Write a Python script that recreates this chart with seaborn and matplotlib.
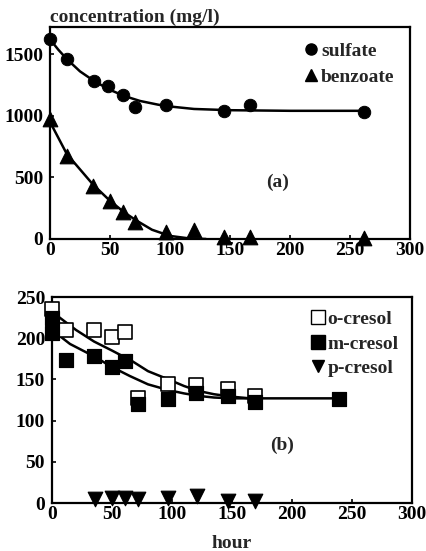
import numpy as np
import pandas as pd
import matplotlib
matplotlib.use("Agg")
import matplotlib.pyplot as plt
import seaborn as sns
from matplotlib.lines import Line2D

# ---- data (a) ----
sulfate_t = [0, 14, 37, 48, 61, 71, 97, 145, 167, 262]
sulfate_c = [1620, 1460, 1285, 1245, 1170, 1070, 1090, 1040, 1090, 1030]
benzoate_t = [0, 14, 36, 50, 61, 71, 97, 120, 145, 167, 262]
benzoate_c = [970, 670, 430, 310, 215, 140, 60, 75, 15, 20, 5]
sulfate_fit_t = [0, 7, 14, 25, 37, 50, 62, 75, 90, 100, 120, 150, 200, 265]
sulfate_fit_c = [1620, 1535, 1460, 1360, 1280, 1210, 1160, 1120, 1090, 1075, 1055, 1045, 1040, 1040]
benzoate_fit_t = [0, 14, 36, 50, 62, 72, 85, 100, 115, 130]
benzoate_fit_c = [950, 690, 440, 310, 215, 150, 75, 25, 6, 0]

# ---- data (b) ----
ocresol_t = [0, 12, 35, 50, 61, 72, 97, 120, 147, 169]
ocresol_c = [236, 210, 210, 202, 207, 128, 145, 143, 138, 130]
mcresol_t = [0, 0, 12, 35, 50, 61, 72, 97, 120, 147, 169, 239]
mcresol_c = [224, 206, 173, 178, 165, 172, 120, 126, 134, 130, 122, 126]
pcresol_t = [36, 50, 61, 72, 97, 121, 147, 169]
pcresol_c = [5, 6, 6, 5, 6, 9, 3, 3]
ocresol_fit_t = [0, 20, 35, 50, 67, 80, 97, 110, 122, 135, 150, 165]
ocresol_fit_c = [232, 210, 196, 185, 172, 160, 150, 142, 136, 132, 129, 127]
mcresol_fit_t = [0, 15, 35, 50, 65, 80, 97, 110, 122, 135, 150, 180, 240]
mcresol_fit_c = [210, 193, 178, 165, 154, 144, 137, 133, 130, 128, 127, 127, 127]

sns.set_style("ticks")
plt.rcParams["font.family"] = ["Liberation Serif", "DejaVu Serif"]
plt.rcParams["font.weight"] = "bold"
FS = 14

fig = plt.figure(figsize=(4.27, 5.51), dpi=100)
W, H = 427, 551
axA = fig.add_axes([50 / W, 1 - 239 / H, 360 / W, 212 / H])
axB = fig.add_axes([52 / W, 1 - 503 / H, 360 / W, 206 / H])

# panel (a)
sns.lineplot(x=sulfate_fit_t, y=sulfate_fit_c, ax=axA, color="black", lw=1.8, sort=False)
sns.lineplot(x=benzoate_fit_t, y=benzoate_fit_c, ax=axA, color="black", lw=1.8, sort=False)
sns.scatterplot(x=sulfate_t, y=sulfate_c, ax=axA, marker="o", s=80, color="black",
                edgecolor="black", zorder=3, clip_on=False)
sns.scatterplot(x=benzoate_t, y=benzoate_c, ax=axA, marker="^", s=110, color="black",
                edgecolor="black", zorder=3, clip_on=False)
axA.set_xlim(0, 300)
axA.set_ylim(0, 1720)
axA.set_xticks([0, 50, 100, 150, 200, 250, 300])
axA.set_yticks([0, 500, 1000, 1500])
axA.text(190, 462, "(a)", fontsize=FS, fontweight="bold", ha="center", va="center")
hA = [Line2D([], [], marker="o", ls="none", color="black", markersize=8),
      Line2D([], [], marker="^", ls="none", color="black", markersize=9)]
axA.legend(hA, ["sulfate", "benzoate"], loc="upper right", frameon=False,
           handletextpad=0.0, handlelength=1.0, labelspacing=0.4,
           borderaxespad=0.5, borderpad=0.3, prop={"weight": "bold", "size": FS})

# panel (b)
sns.lineplot(x=ocresol_fit_t, y=ocresol_fit_c, ax=axB, color="black", lw=1.8, sort=False)
sns.lineplot(x=mcresol_fit_t, y=mcresol_fit_c, ax=axB, color="black", lw=1.8, sort=False)
sns.scatterplot(x=ocresol_t, y=ocresol_c, ax=axB, marker="s", s=115, color="white",
                edgecolor="black", linewidth=1.2, zorder=3, clip_on=False)
sns.scatterplot(x=mcresol_t, y=mcresol_c, ax=axB, marker="s", s=115, color="black",
                edgecolor="black", zorder=4, clip_on=False)
sns.scatterplot(x=pcresol_t, y=pcresol_c, ax=axB, marker="v", s=110, color="black",
                edgecolor="black", zorder=4, clip_on=False)
axB.set_xlim(0, 300)
axB.set_ylim(0, 250)
axB.set_xticks([0, 50, 100, 150, 200, 250, 300])
axB.set_yticks([0, 50, 100, 150, 200, 250])
axB.text(192, 70, "(b)", fontsize=FS, fontweight="bold", ha="center", va="center")
hB = [Line2D([], [], marker="s", ls="none", markerfacecolor="white", markeredgecolor="black", markersize=10),
      Line2D([], [], marker="s", ls="none", color="black", markersize=10),
      Line2D([], [], marker="v", ls="none", color="black", markersize=9)]
axB.legend(hB, ["o-cresol", "m-cresol", "p-cresol"], loc="upper right", frameon=False,
           handletextpad=0.0, handlelength=1.0, labelspacing=0.35,
           borderaxespad=0.4, borderpad=0.3, prop={"weight": "bold", "size": FS})
axB.set_xlabel("hour", fontsize=FS, fontweight="bold", labelpad=9)

for ax in (axA, axB):
    for s in ax.spines.values():
        s.set_visible(True)
        s.set_linewidth(1.6)
        s.set_color("black")
    ax.tick_params(direction="in", length=3, width=1.2, labelsize=FS, colors="black")
    ax.tick_params(axis="x", pad=2)
    ax.tick_params(axis="y", pad=5)
    for lab in ax.get_xticklabels() + ax.get_yticklabels():
        lab.set_fontweight("bold")
    ax.set_ylabel("")

fig.text(50 / W, 1 - 17 / H, "concentration (mg/l)", fontsize=FS, fontweight="bold",
         ha="left", va="center")

fig.savefig("out.png", dpi=100, facecolor="white")
